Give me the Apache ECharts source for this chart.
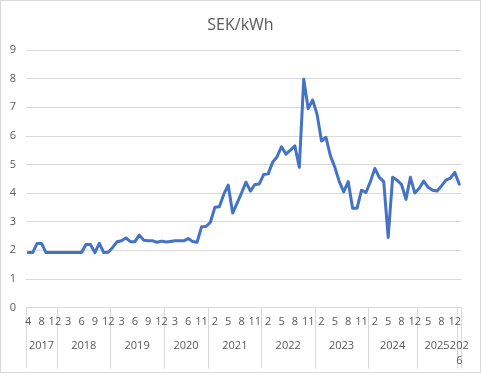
<!DOCTYPE html>
<html>
<head>
<meta charset="utf-8">
<script src="https://cdn.jsdelivr.net/npm/echarts@6/dist/echarts.min.js"></script>
<style>
  html, body { margin: 0; padding: 0; background: #ffffff; }
  #wrap { position: absolute; left: 0; top: 0; width: 479px; height: 371px; border: 1px solid #d9d9d9; }
  #chart { width: 479px; height: 371px; }
</style>
</head>
<body>
<div id="wrap"><div id="chart"></div></div>
<script>
// ---- data ----
const yearLabels = ['2017', '2018', '2019', '2020', '2021', '2022', '2023', '2024', '2025', '2026'];
const monthsByYear = [
  [4, 6, 7, 8, 10, 11, 12],
  [1, 2, 3, 4, 5, 6, 7, 8, 9, 10, 11, 12],
  [1, 2, 3, 4, 5, 6, 7, 8, 9, 10, 11, 12],
  [1, 2, 3, 4, 5, 6, 8, 10, 11, 12],
  [1, 2, 3, 4, 5, 6, 7, 8, 9, 10, 11, 12],
  [1, 2, 3, 4, 5, 6, 7, 8, 9, 10, 11, 12],
  [1, 2, 3, 4, 5, 6, 7, 8, 9, 10, 11, 12],
  [1, 2, 3, 4, 5, 6, 7, 8, 10, 11, 12],
  [3, 4, 5, 6, 7, 8, 9, 10, 12],
  [1]
];
const price = [
  // 2017
  1.92, 1.92, 2.24, 2.24, 1.92, 1.92, 1.92,
  // 2018
  1.92, 1.92, 1.92, 1.92, 1.92, 1.92, 2.20, 2.20, 1.92, 2.24, 1.92, 1.93,
  // 2019
  2.10, 2.30, 2.33, 2.43, 2.30, 2.30, 2.53, 2.35, 2.33, 2.33, 2.28, 2.32,
  // 2020
  2.29, 2.31, 2.33, 2.33, 2.33, 2.41, 2.31, 2.28, 2.82, 2.83,
  // 2021
  2.98, 3.50, 3.52, 3.95, 4.28, 3.30, 3.65, 4.00, 4.38, 4.07, 4.30, 4.32,
  // 2022
  4.65, 4.67, 5.08, 5.27, 5.62, 5.36, 5.50, 5.65, 4.90, 7.98, 6.95, 7.25,
  // 2023
  6.75, 5.82, 5.95, 5.30, 4.90, 4.40, 4.04, 4.40, 3.47, 3.47, 4.10, 4.02,
  // 2024
  4.40, 4.86, 4.55, 4.40, 2.45, 4.55, 4.45, 4.30, 3.78, 4.55, 4.00,
  // 2025
  4.17, 4.42, 4.20, 4.10, 4.07, 4.25, 4.45, 4.52, 4.72,
  // 2026
  4.31
];
const yTicks = { min: 0, max: 9, step: 1 };

// ---- derived ----
const categories = [];
const yearStarts = [];
const yearMids = [];
monthsByYear.forEach(function (ms) {
  yearStarts.push(categories.length);
  yearMids.push(categories.length + ms.length / 2);
  ms.forEach(function (m) { categories.push(String(m)); });
});
const total = categories.length;
const boundaries = yearStarts.concat([total]);

const labelColor = '#595959';
const font = '"Open Sans", "Liberation Sans", sans-serif';

const chart = echarts.init(document.getElementById('chart'), null, { renderer: 'canvas' });
chart.setOption({
  animation: false,
  title: {
    text: 'SEK/kWh',
    left: 'center',
    top: 11,
    textStyle: { fontFamily: font, fontSize: 16, fontWeight: 'normal', color: labelColor }
  },
  grid: { left: 25, right: 18.5, top: 49, bottom: 64.5, containLabel: false },
  xAxis: [
    {
      type: 'category',
      data: categories,
      boundaryGap: true,
      position: 'bottom',
      axisLine: { show: true, lineStyle: { color: '#d9d9d9', width: 1 } },
      axisTick: { show: false },
      axisLabel: { interval: 2, color: labelColor, fontFamily: font, fontSize: 11, margin: 9 },
      splitLine: { show: false }
    },
    {
      type: 'value',
      min: 0,
      max: total,
      position: 'bottom',
      axisLine: { show: false },
      splitLine: { show: false },
      axisTick: {
        show: true,
        length: 61,
        customValues: boundaries,
        lineStyle: { color: '#d9d9d9', width: 1 }
      },
      axisLabel: {
        show: true,
        customValues: yearMids,
        margin: 31,
        color: labelColor,
        fontFamily: font,
        fontSize: 11,
        lineHeight: 15,
        formatter: function (v) {
          const idx = yearMids.indexOf(v);
          if (idx < 0) return '';
          const txt = yearLabels[idx];
          return monthsByYear[idx].length <= 2 ? txt.slice(0, 3) + '\n' + txt.slice(3) : txt;
        }
      }
    }
  ],
  yAxis: {
    type: 'value',
    min: yTicks.min,
    max: yTicks.max,
    interval: yTicks.step,
    axisLine: { show: false },
    axisTick: { show: false },
    axisLabel: { color: labelColor, fontFamily: font, fontSize: 11, margin: 10 },
    splitLine: { lineStyle: { color: '#d9d9d9', width: 1 } }
  },
  series: [{
    type: 'line',
    data: price,
    xAxisIndex: 0,
    symbol: 'none',
    lineStyle: { color: '#4472C4', width: 3, join: 'round', cap: 'round' }
  }]
});
</script>
</body>
</html>
